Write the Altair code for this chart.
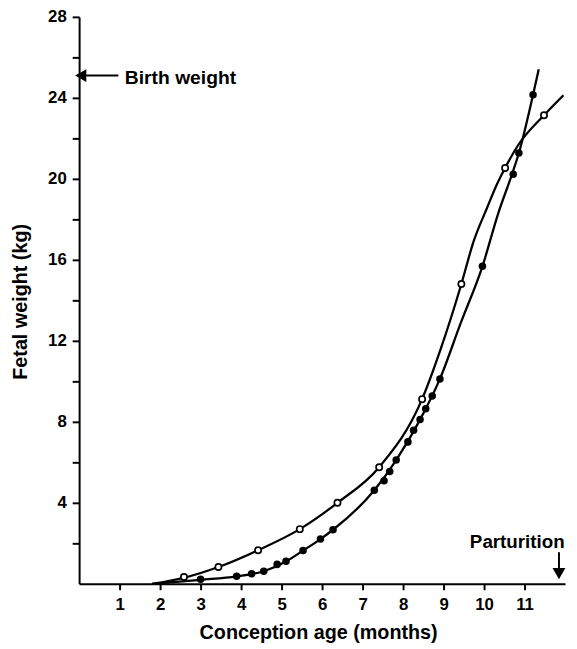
import altair as alt
import pandas as pd

# ---- data ----
# open-circle series (measured points)
open_x = [2.59, 3.44, 4.42, 5.45, 6.38, 7.41, 8.47, 9.44, 10.52, 11.48]
open_y = [0.34, 0.83, 1.66, 2.70, 4.00, 5.76, 9.12, 14.81, 20.54, 23.14]

# filled-circle series (measured points)
filled_x = [3.00, 3.89, 4.26, 4.56, 4.89, 5.11, 5.53, 5.96, 6.27, 7.29, 7.53, 7.67,
            7.83, 8.12, 8.26, 8.42, 8.56, 8.72, 8.91, 9.96, 10.72, 10.86, 11.21]
filled_y = [0.23, 0.37, 0.50, 0.62, 0.96, 1.11, 1.64, 2.21, 2.67, 4.62, 5.09, 5.55,
            6.11, 7.01, 7.58, 8.11, 8.65, 9.28, 10.12, 15.68, 20.23, 21.28, 24.16]

# fitted curves
open_curve_x = [1.80, 2.59, 3.44, 4.42, 5.45, 6.38, 7.41, 8.47, 8.93, 9.44, 9.74,
                10.07, 10.31, 10.52, 10.84, 11.48, 11.96]
open_curve_y = [0.0, 0.30, 0.83, 1.66, 2.70, 4.00, 5.76, 9.12, 11.60, 14.81, 16.90,
                18.55, 19.70, 20.54, 21.66, 23.14, 24.13]

filled_curve_x = [1.80, 3.00, 3.89, 4.56, 5.11, 5.53, 5.96, 6.27, 7.29, 7.83, 8.42,
                  8.91, 9.42, 9.96, 10.35, 10.72, 10.86, 11.21, 11.35]
filled_curve_y = [0.0, 0.20, 0.37, 0.62, 1.10, 1.64, 2.21, 2.67, 4.62, 6.11, 8.11,
                  10.12, 12.86, 15.68, 18.30, 20.40, 21.28, 24.16, 25.41]

x_ticks = list(range(1, 12))
y_ticks = list(range(2, 29, 2))

# annotations (data units)
birth_label = ["Birth weight"]
birth_value = [25.1]
birth_text_pos = [1.13, 24.68]
birth_arrow_x = [0.04, 0.97]
partu_label = ["Parturition"]
partu_x = [11.85]
partu_arrow_y = [1.56, 0.5]
partu_text_pos = [10.82, 1.76]

FONT = "Liberation Sans"

x_scale = alt.Scale(domain=[0, 12], nice=False, zero=False)
y_scale = alt.Scale(domain=[0, 28], nice=False)

x_axis = alt.Axis(values=x_ticks, title="Conception age (months)", grid=False,
                  tickSize=6, labelPadding=20, labelBaseline="alphabetic",
                  labelOverlap=False, labelFlush=False,
                  titleX=242, titleY=55, titleBaseline="alphabetic", titleAlign="center")
y_axis = alt.Axis(values=y_ticks, labelExpr="datum.value % 4 == 0 ? datum.label : ''",
                  title="Fetal weight (kg)", grid=False, tickSize=7, labelPadding=6,
                  labelOverlap=False, labelFlush=False,
                  titleAngle=-90, titleX=-53, titleY=288, titleAlign="center",
                  titleBaseline="alphabetic")

X = alt.X("x:Q", scale=x_scale, axis=x_axis)
Y = alt.Y("y:Q", scale=y_scale, axis=y_axis)

open_pts = pd.DataFrame({"x": open_x, "y": open_y})
filled_pts = pd.DataFrame({"x": filled_x, "y": filled_y})
open_curve = pd.DataFrame({"x": open_curve_x, "y": open_curve_y})
filled_curve = pd.DataFrame({"x": filled_curve_x, "y": filled_curve_y})

line_open = alt.Chart(open_curve).mark_line(color="black", strokeWidth=2.3, interpolate="monotone").encode(x=X, y=Y)
line_filled = alt.Chart(filled_curve).mark_line(color="black", strokeWidth=2.3, interpolate="monotone").encode(x=X, y=Y)

pts_open = alt.Chart(open_pts).mark_point(shape="circle", filled=False, fill="white", fillOpacity=1,
                                          stroke="black", strokeWidth=1.7, size=40, opacity=1).encode(x=X, y=Y)
pts_filled = alt.Chart(filled_pts).mark_point(shape="circle", filled=True, color="black",
                                              size=58, opacity=1).encode(x=X, y=Y)

# Birth weight annotation
bw_rule = alt.Chart(pd.DataFrame({"x": [birth_arrow_x[0]], "x2": [birth_arrow_x[1]], "y": birth_value})).mark_rule(
    color="black", strokeWidth=2).encode(x=X, x2="x2:Q", y=Y)
bw_head = alt.Chart(pd.DataFrame({"x": [birth_arrow_x[0]], "y": birth_value})).mark_point(
    shape="triangle-left", filled=True, color="black", size=170, opacity=1).encode(x=X, y=Y)
bw_text = alt.Chart(pd.DataFrame({"x": [birth_text_pos[0]], "y": [birth_text_pos[1]], "t": birth_label})).mark_text(
    align="left", baseline="alphabetic", font=FONT, fontSize=19.5, fontWeight="bold", color="black").encode(x=X, y=Y, text="t:N")

# Parturition annotation
pa_rule = alt.Chart(pd.DataFrame({"x": partu_x, "y": [partu_arrow_y[0]], "y2": [partu_arrow_y[1]]})).mark_rule(
    color="black", strokeWidth=2).encode(x=X, y=Y, y2="y2:Q")
pa_head = alt.Chart(pd.DataFrame({"x": partu_x, "y": [partu_arrow_y[1]]})).mark_point(
    shape="triangle-down", filled=True, color="black", size=170, opacity=1).encode(x=X, y=Y)
pa_text = alt.Chart(pd.DataFrame({"x": [partu_text_pos[0]], "y": [partu_text_pos[1]], "t": partu_label})).mark_text(
    align="center", baseline="alphabetic", font=FONT, fontSize=19, fontWeight="bold", color="black").encode(x=X, y=Y, text="t:N")

chart = alt.layer(
    line_open, line_filled, pts_open, pts_filled,
    bw_rule, bw_head, bw_text, pa_rule, pa_head, pa_text
).properties(
    width=492, height=574,
    autosize=alt.AutoSizeParams(type="none"),
    padding={"left": 72, "top": 5, "right": 4, "bottom": 62},
    background="white",
).configure_view(stroke=None).configure_axis(
    domainColor="black", domainWidth=2, tickColor="black", tickWidth=2,
    labelColor="black", labelFont=FONT, labelFontSize=17, labelFontWeight="bold",
    titleColor="black", titleFont=FONT, titleFontSize=20, titleFontWeight="bold",
)

chart.save("out.html", embed_options={"renderer": "svg", "actions": False})
